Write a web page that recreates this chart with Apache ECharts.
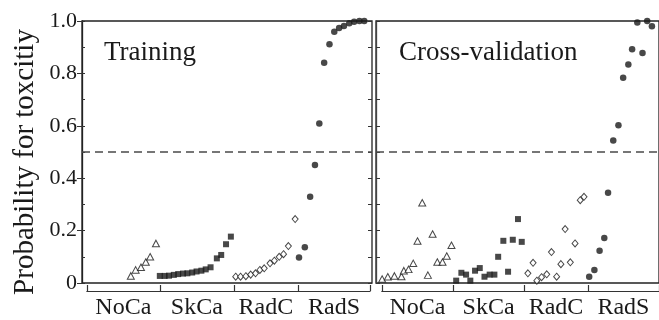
<!DOCTYPE html>
<html>
<head>
<meta charset="utf-8">
<script src="https://cdn.jsdelivr.net/npm/echarts@6/dist/echarts.min.js"></script>
<style>
  html, body { margin: 0; padding: 0; background: #fff; }
  #chart { width: 659px; height: 320px; }
</style>
</head>
<body>
<div id="chart"></div>
<script>
// sample position (x) and predicted probability (p) per group
const categories = ['NoCa', 'SkCa', 'RadC', 'RadS'];
const yTicks = [0, 0.2, 0.4, 0.6, 0.8, 1.0];
const threshold = 0.5;

// training panel
const trainNoCaX = [10.1, 11.1, 12.2, 13.2, 14.1, 15.3];
const trainNoCaP = [0.027, 0.05, 0.06, 0.08, 0.10, 0.151];
const trainSkCaX = [16.1, 17.1, 18.0, 19.0, 19.9, 20.9, 21.8, 22.8, 23.7, 24.7, 25.6, 26.6, 27.9, 28.8, 29.8, 30.8];
const trainSkCaP = [0.027, 0.027, 0.028, 0.031, 0.034, 0.036, 0.037, 0.040, 0.044, 0.047, 0.052, 0.060, 0.094, 0.107, 0.148, 0.177];
const trainRadCX = [31.8, 32.8, 33.9, 34.9, 35.9, 36.8, 37.7, 38.9, 39.8, 40.8, 41.7, 42.7, 44.1];
const trainRadCP = [0.024, 0.024, 0.026, 0.032, 0.037, 0.050, 0.056, 0.075, 0.085, 0.100, 0.110, 0.141, 0.244];
const trainRadSX = [44.9, 46.1, 47.2, 48.2, 49.1, 50.1, 51.2, 52.2, 53.2, 54.2, 55.3, 56.3, 57.4, 58.4];
const trainRadSP = [0.097, 0.136, 0.329, 0.450, 0.609, 0.841, 0.911, 0.959, 0.973, 0.981, 0.991, 0.997, 1.0, 1.0];
const trainBounds = [1.0, 16.1, 31.4, 44.7, 59.6];

// cross-validation panel
const cvNoCaX = [1.3, 2.5, 3.9, 5.4, 5.9, 6.9, 7.9, 8.8, 9.8, 11.0, 12.0, 13.0, 14.1, 15.0, 16.0];
const cvNoCaP = [0.015, 0.024, 0.027, 0.025, 0.047, 0.052, 0.075, 0.160, 0.306, 0.030, 0.187, 0.080, 0.080, 0.103, 0.144];
const cvSkCaX = [17.0, 18.1, 19.1, 20.0, 21.0, 22.0, 23.0, 24.1, 25.1, 25.9, 27.0, 28.0, 29.0, 30.1, 30.9];
const cvSkCaP = [0.009, 0.039, 0.032, 0.009, 0.047, 0.057, 0.024, 0.032, 0.032, 0.100, 0.161, 0.043, 0.165, 0.244, 0.157];
const cvRadCX = [32.2, 33.3, 34.1, 35.1, 36.2, 37.2, 38.3, 39.2, 40.1, 41.2, 42.2, 43.3, 44.1];
const cvRadCP = [0.037, 0.077, 0.009, 0.022, 0.033, 0.118, 0.024, 0.072, 0.206, 0.079, 0.151, 0.316, 0.329];
const cvRadSX = [45.2, 46.3, 47.4, 48.4, 49.2, 50.3, 51.4, 52.4, 53.5, 54.3, 55.4, 56.5, 57.5, 58.5];
const cvRadSP = [0.024, 0.050, 0.123, 0.172, 0.344, 0.544, 0.602, 0.783, 0.834, 0.892, 0.994, 0.878, 1.0, 0.98];
const cvBounds = [1.2, 16.3, 31.4, 44.9, 60];

const xMax = 60;
const panelW = 290;
const unit = panelW / xMax;
const panelLeft = [82, 376];
const ink = '#1a1a1a';
const serif = 'Liberation Serif';

function zip(xs, ps) { return xs.map((x, i) => [x, ps[i]]); }
function mids(b) { return b.slice(0, -1).map((v, i) => (v + b[i + 1]) / 2); }

const styles = [
  { symbol: 'triangle', symbolSize: [7, 6.5], itemStyle: { color: '#fff', borderColor: ink, borderWidth: 1 } },
  { symbol: 'rect', symbolSize: 6, itemStyle: { color: ink } },
  { symbol: 'diamond', symbolSize: [6, 7], itemStyle: { color: '#fff', borderColor: ink, borderWidth: 1 } },
  { symbol: 'circle', symbolSize: 6.5, itemStyle: { color: ink } }
];

function panelSeries(gi, groups) {
  return groups.map((g, k) => {
    const s = Object.assign({
      type: 'scatter',
      xAxisIndex: gi,
      yAxisIndex: gi === 0 ? 0 : 3,
      data: zip(g[0], g[1]),
      z: 5
    }, styles[k]);
    if (k === 0) {
      s.markLine = {
        silent: true,
        symbol: ['none', 'none'],
        label: { show: false },
        lineStyle: { type: [8, 5], color: '#4a4a4a', width: 1.5 },
        data: [{ yAxis: threshold }]
      };
    }
    return s;
  });
}

function bracketAxis(gi, b) {
  const m = mids(b);
  return {
    type: 'value', gridIndex: gi, min: b[0], max: b[b.length - 1],
    position: 'bottom',
    splitLine: { show: false },
    axisLine: { show: true, lineStyle: { color: '#333', width: 1.2 } },
    axisTick: { show: true, inside: true, length: 6, customValues: b, lineStyle: { color: '#333', width: 1.2 } },
    axisLabel: {
      show: true, customValues: m, margin: 5,
      color: ink, fontFamily: serif, fontSize: 24,
      formatter: v => categories[m.findIndex(c => Math.abs(c - v) < 1e-6)] || ''
    }
  };
}

const chart = echarts.init(document.getElementById('chart'));
chart.setOption({
  animation: false,
  backgroundColor: '#fff',
  title: [
    { text: 'Training', left: 99, top: 34, textStyle: { fontFamily: serif, fontSize: 27, fontWeight: 'normal', color: ink } },
    { text: 'Cross-validation', left: 394, top: 34, textStyle: { fontFamily: serif, fontSize: 27, fontWeight: 'normal', color: ink } }
  ],
  graphic: [{
    type: 'text', x: 25, y: 162, rotation: Math.PI / 2,
    style: { text: 'Probability for toxcitiy', fontFamily: serif, fontSize: 29, fill: ink, align: 'center', verticalAlign: 'middle' }
  }],
  grid: [
    { left: panelLeft[0], top: 21, width: panelW, height: 262, show: true, borderColor: '#222', borderWidth: 1.3 },
    { left: panelLeft[1], top: 21, width: panelW, height: 262, show: true, borderColor: '#222', borderWidth: 1.3 },
    { left: panelLeft[0] + trainBounds[0] * unit, top: 283, width: (trainBounds[4] - trainBounds[0]) * unit, height: 10 },
    { left: panelLeft[1] + cvBounds[0] * unit, top: 283, width: (cvBounds[4] - cvBounds[0]) * unit, height: 10 }
  ],
  xAxis: [
    { type: 'value', gridIndex: 0, min: 0, max: xMax, show: false },
    { type: 'value', gridIndex: 1, min: 0, max: xMax, show: false },
    bracketAxis(2, trainBounds),
    bracketAxis(3, cvBounds)
  ],
  yAxis: [
    {
      type: 'value', gridIndex: 0, min: 0, max: 1, interval: 0.2,
      splitLine: { show: false },
      axisLine: { show: true, lineStyle: { color: '#222', width: 1.3 } },
      axisTick: { show: true, length: 5, lineStyle: { color: '#333' } },
      axisLabel: {
        margin: 5, color: ink, fontFamily: serif, fontSize: 22,
        formatter: v => (yTicks.includes(v) && v === 0 ? '0' : v.toFixed(1))
      }
    },
    {
      type: 'value', gridIndex: 0, min: 0, max: 1, interval: 0.1, position: 'right',
      splitLine: { show: false }, axisLabel: { show: false },
      axisLine: { show: false },
      axisTick: { show: true, inside: true, length: 4, lineStyle: { color: '#333' } }
    },
    {
      type: 'value', gridIndex: 0, min: 0, max: 1, interval: 0.1, position: 'left',
      splitLine: { show: false }, axisLabel: { show: false },
      axisLine: { show: false },
      axisTick: { show: true, inside: true, length: 3, lineStyle: { color: '#333' } }
    },
    {
      type: 'value', gridIndex: 1, min: 0, max: 1, interval: 0.1, position: 'left',
      splitLine: { show: false }, axisLabel: { show: false },
      axisLine: { show: true, lineStyle: { color: '#444', width: 1.3 } },
      axisTick: { show: true, inside: true, length: 4, lineStyle: { color: '#333' } }
    },
    { type: 'value', gridIndex: 2, show: false },
    { type: 'value', gridIndex: 3, show: false }
  ],
  series: panelSeries(0, [
    [trainNoCaX, trainNoCaP], [trainSkCaX, trainSkCaP], [trainRadCX, trainRadCP], [trainRadSX, trainRadSP]
  ]).concat(panelSeries(1, [
    [cvNoCaX, cvNoCaP], [cvSkCaX, cvSkCaP], [cvRadCX, cvRadCP], [cvRadSX, cvRadSP]
  ]))
});
</script>
</body>
</html>
